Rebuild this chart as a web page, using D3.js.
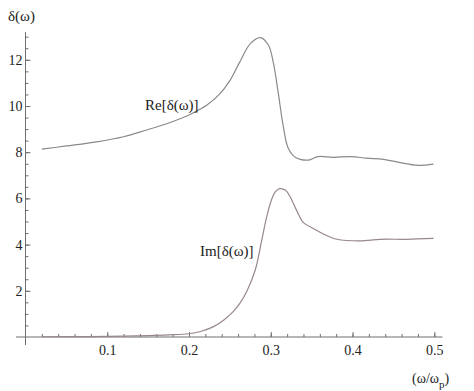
<!DOCTYPE html>
<html>
<head>
<meta charset="utf-8">
<script src="https://cdn.jsdelivr.net/npm/d3@7/dist/d3.min.js"></script>
<style>
  body { margin: 0; background: #fff; }
</style>
</head>
<body>
<svg id="chart" width="474" height="391"></svg>
<script>
// values
var reX = [0.02, 0.05, 0.087, 0.12, 0.148, 0.17, 0.189, 0.205, 0.222, 0.237, 0.25, 0.262, 0.275, 0.287, 0.297, 0.303, 0.309, 0.315, 0.321, 0.328, 0.336, 0.346, 0.358, 0.376, 0.399, 0.417, 0.438, 0.458, 0.48, 0.499];
var reY = [8.13, 8.27, 8.45, 8.67, 8.96, 9.2, 9.45, 9.7, 10.04, 10.5, 11.1, 11.9, 12.7, 12.96, 12.64, 11.9, 10.6, 9.18, 8.2, 7.83, 7.69, 7.66, 7.81, 7.78, 7.81, 7.74, 7.69, 7.55, 7.43, 7.48];

var imX = [0.02, 0.08, 0.12, 0.15, 0.175, 0.2, 0.215, 0.23, 0.243, 0.254, 0.263, 0.271, 0.281, 0.289, 0.295, 0.301, 0.306, 0.311, 0.318, 0.324, 0.332, 0.34, 0.352, 0.365, 0.381, 0.409, 0.434, 0.466, 0.499];
var imY = [0.01, 0.02, 0.04, 0.06, 0.09, 0.14, 0.25, 0.45, 0.75, 1.1, 1.5, 2.0, 2.9, 4.2, 5.2, 5.95, 6.3, 6.42, 6.35, 6.05, 5.45, 4.95, 4.7, 4.45, 4.23, 4.16, 4.23, 4.23, 4.27];

var xTicks = [0.1, 0.2, 0.3, 0.4, 0.5];
var yTicks = [2, 4, 6, 8, 10, 12];
var xMinor = d3.range(1, 26).map(function(i){ return i * 0.02; });
var yMinor = d3.range(1, 27).map(function(i){ return i * 0.5; });

var serif = "'Liberation Serif', 'Times New Roman', Times, serif";

var svg = d3.select("#chart");

var x = d3.scaleLinear().domain([0, 0.5]).range([25.5, 434.3]);
var y = d3.scaleLinear().domain([0, 12]).range([337, 59.8]);

var axisColor = "#6f6f6f";

// axes cross at the origin, lines run a bit past it like mathematica does
var xAxisG = svg.append("g").attr("transform", "translate(0," + y(0) + ")");
xAxisG.call(d3.axisBottom(x).tickValues(xMinor).tickFormat("").tickSizeInner(-3).tickSizeOuter(0));
xAxisG.append("g").call(d3.axisBottom(x).tickValues(xTicks).tickFormat(d3.format(".1f"))
    .tickSizeInner(-5).tickSizeOuter(0).tickPadding(8));

var yAxisG = svg.append("g").attr("transform", "translate(" + x(0) + ",0)");
yAxisG.call(d3.axisLeft(y).tickValues(yMinor).tickFormat("").tickSizeInner(-3).tickSizeOuter(0));
yAxisG.append("g").call(d3.axisLeft(y).tickValues(yTicks).tickFormat(d3.format("d"))
    .tickSizeInner(-5).tickSizeOuter(0).tickPadding(3));

// redraw the domain lines with the extended range
svg.selectAll(".domain").remove();
svg.append("line")
  .attr("x1", x(-0.0116)).attr("x2", x(0.51))
  .attr("y1", y(0)).attr("y2", y(0))
  .attr("stroke", axisColor);
svg.append("line")
  .attr("x1", x(0)).attr("x2", x(0))
  .attr("y1", y(-0.35)).attr("y2", y(13.2))
  .attr("stroke", axisColor);

svg.selectAll(".tick line").attr("stroke", axisColor);
svg.selectAll("g").attr("font-family", null);
svg.selectAll(".tick text")
  .style("font-family", serif)
  .style("font-size", "14px")
  .attr("fill", "#222");

// curves
var line = d3.line()
  .x(function(d){ return x(d[0]); })
  .y(function(d){ return y(d[1]); })
  .curve(d3.curveCatmullRom.alpha(0.5));

var rePts = reX.map(function(v, i){ return [v, reY[i]]; });
var imPts = imX.map(function(v, i){ return [v, imY[i]]; });

svg.append("path").datum(rePts)
  .attr("d", line)
  .attr("fill", "none")
  .attr("stroke", "#8a8a8a")
  .attr("stroke-width", 1.2);

svg.append("path").datum(imPts)
  .attr("d", line)
  .attr("fill", "none")
  .attr("stroke", "#97878f")
  .attr("stroke-width", 1.2);

// labels
function label(px, py, size, txt){
  return svg.append("text").attr("x", px).attr("y", py)
    .style("font-family", serif).style("font-size", size + "px")
    .attr("fill", "#222").text(txt);
}
label(145, 110, 15, "Re[δ(ω)]");
label(200, 256, 15, "Im[δ(ω)]");
label(8, 21, 15, "δ(ω)");

var xl = label(412, 383, 14, "");
xl.append("tspan").text("(ω/ω");
xl.append("tspan").attr("dy", 5).style("font-size", "11px").text("p");
xl.append("tspan").attr("dy", -5).text(")");
</script>
</body>
</html>
